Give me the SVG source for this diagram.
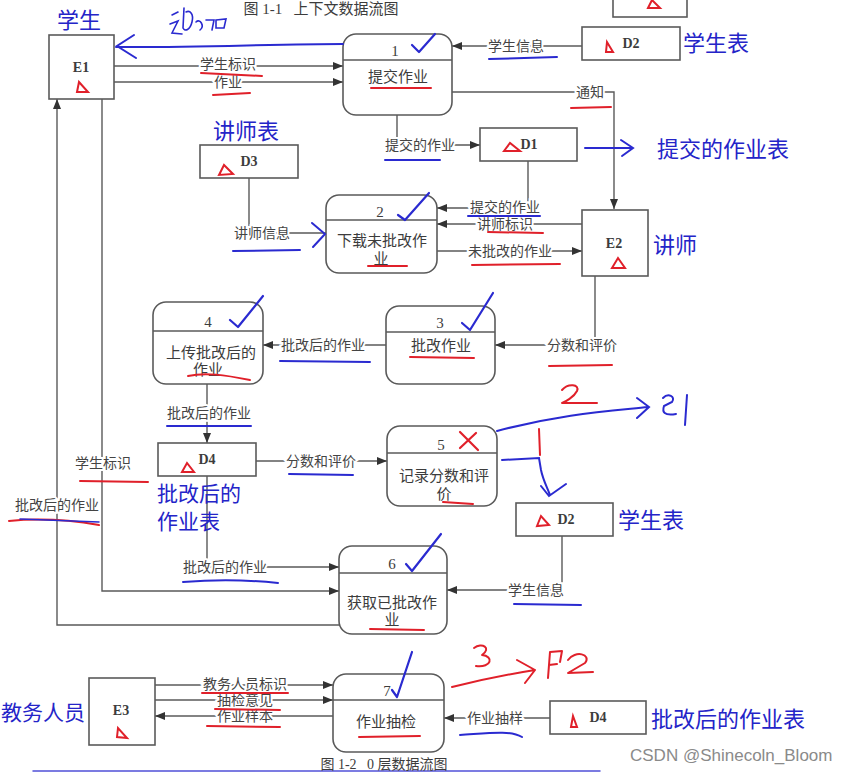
<svg xmlns="http://www.w3.org/2000/svg" width="866" height="773" viewBox="0 0 866 773">
<style>
.box{fill:#fff;stroke:#5a5a5a;stroke-width:1.6}
.proc{fill:#fff;stroke:#5a5a5a;stroke-width:1.6}
.div{stroke:#5a5a5a;stroke-width:1.5}
.ln{fill:none;stroke:#5a5a5a;stroke-width:1.4}
.t{font-family:"Liberation Serif","Noto Sans CJK SC",serif;font-size:15px;fill:#3c3c3c;text-anchor:middle;dominant-baseline:central}
.id{font-family:"Liberation Serif","Noto Sans CJK SC",serif;font-size:14px;font-weight:bold;fill:#3c3c3c;text-anchor:middle;dominant-baseline:central}
.lb{font-family:"Liberation Serif","Noto Sans CJK SC",serif;font-size:14px;fill:#444;text-anchor:middle;dominant-baseline:central;paint-order:stroke;stroke:#fff;stroke-width:4px}
.hw{font-family:"Noto Sans CJK SC",sans-serif;font-size:22px;fill:#2424c8}
.tri{fill:none;stroke:#e0202a;stroke-width:2}
.bu{fill:none;stroke:#2a2ad0;stroke-width:2;stroke-linecap:round}
.ru{fill:none;stroke:#e0202a;stroke-width:2;stroke-linecap:round;stroke-linejoin:round}
.ck{fill:none;stroke:#2a2ad0;stroke-width:2.2;stroke-linecap:round;stroke-linejoin:round}
.cap{white-space:pre}
</style>
<defs>
<marker id="a" markerWidth="10" markerHeight="8" refX="10" refY="4" orient="auto" markerUnits="userSpaceOnUse">
<path d="M0,0 L10,4 L0,8 Z" fill="#333"/>
</marker>
</defs>
<rect width="866" height="773" fill="#fff"/>

<text x="321" y="14" class="t cap" style="font-size:15px;dominant-baseline:auto" xml:space="preserve">图 1-1   上下文数据流图</text>

<g id="topbox">
<rect x="613" y="-2" width="74" height="19" class="box"/>
<path d="M648,8 L652,0 L660,8 Z" class="tri"/>
</g>

<g id="connectors">
<path d="M114,66 H343" class="ln" marker-end="url(#a)"/>
<path d="M114,82 H343" class="ln" marker-end="url(#a)"/>
<path d="M582,46 H452" class="ln" marker-end="url(#a)"/>
<path d="M452,92 H614 V209" class="ln" marker-end="url(#a)"/>
<path d="M397,115 V145 H480" class="ln" marker-end="url(#a)"/>
<path d="M528,161 V208 H437" class="ln" marker-end="url(#a)"/>
<path d="M582,224 H437" class="ln" marker-end="url(#a)"/>
<path d="M437,251 H582" class="ln" marker-end="url(#a)"/>
<path d="M249,178 V233 H326" class="ln"/>
<path d="M595,276 V345 H495" class="ln" marker-end="url(#a)"/>
<path d="M386,345 H263" class="ln" marker-end="url(#a)"/>
<path d="M207,384 V443" class="ln" marker-end="url(#a)"/>
<path d="M256,461 H387" class="ln" marker-end="url(#a)"/>
<path d="M562,536 V590 H447" class="ln" marker-end="url(#a)"/>
<path d="M207,476 V567 H339" class="ln" marker-end="url(#a)"/>
<path d="M102,99 V591 H339" class="ln" marker-end="url(#a)"/>
<path d="M339,625 H57 V99" class="ln" marker-end="url(#a)"/>
<path d="M155,685 H333" class="ln" marker-end="url(#a)"/>
<path d="M155,700 H333" class="ln" marker-end="url(#a)"/>
<path d="M333,716 H155" class="ln" marker-end="url(#a)"/>
<path d="M550,718 H444" class="ln" marker-end="url(#a)"/>

<text x="228" y="64" class="lb">学生标识</text>
<text x="228" y="82" class="lb">作业</text>
<text x="516" y="46" class="lb">学生信息</text>
<text x="590" y="92" class="lb">通知</text>
<text x="420" y="145" class="lb">提交的作业</text>
<text x="505" y="207" class="lb">提交的作业</text>
<text x="505" y="224" class="lb">讲师标识</text>
<text x="510" y="251" class="lb">未批改的作业</text>
<text x="262" y="233" class="lb">讲师信息</text>
<text x="582" y="345" class="lb">分数和评价</text>
<text x="323" y="345" class="lb">批改后的作业</text>
<text x="209" y="413" class="lb">批改后的作业</text>
<text x="321" y="461" class="lb">分数和评价</text>
<text x="536" y="590" class="lb">学生信息</text>
<text x="225" y="567" class="lb">批改后的作业</text>
<text x="103" y="463" class="lb">学生标识</text>
<text x="57" y="505" class="lb">批改后的作业</text>
<text x="245" y="684" class="lb">教务人员标识</text>
<text x="245" y="700" class="lb">抽检意见</text>
<text x="245" y="716" class="lb">作业样本</text>
<text x="495" y="718" class="lb">作业抽样</text>
</g>

<g id="E1">
<rect x="49" y="35" width="65" height="64" class="box"/>
<text x="81" y="67" class="id">E1</text>
<path d="M77,92 L79,82 L88,92 Z" class="tri"/>
</g>
<g id="P1">
<rect x="343" y="34" width="109" height="81" rx="13" class="proc"/>
<line x1="343" y1="60" x2="452" y2="60" class="div"/>
<text x="395" y="51" class="t">1</text>
<text x="398" y="77" class="t">提交作业</text>
</g>
<g id="D2">
<rect x="582" y="27" width="98" height="33" class="box"/>
<text x="631" y="43" class="id">D2</text>
<path d="M606,52 L607,42 L613,52 Z" class="tri"/>
</g>
<g id="D1">
<rect x="480" y="128" width="97" height="33" class="box"/>
<text x="529" y="144" class="id">D1</text>
<path d="M504,151 L510,143 L520,151 Z" class="tri"/>
</g>
<g id="D3">
<rect x="200" y="145" width="98" height="33" class="box"/>
<text x="249" y="161" class="id">D3</text>
<path d="M219,175 L224,165 L233,174 Z" class="tri"/>
</g>
<g id="P2">
<rect x="326" y="195" width="111" height="78" rx="13" class="proc"/>
<line x1="326" y1="220" x2="437" y2="220" class="div"/>
<text x="380" y="212" class="t">2</text>
<text x="382" y="241" class="t">下载未批改作</text>
<text x="381" y="259" class="t">业</text>
</g>
<g id="E2">
<rect x="582" y="210" width="66" height="66" class="box"/>
<text x="614" y="243" class="id">E2</text>
<path d="M612,268 L618,258 L625,268 Z" class="tri"/>
</g>
<g id="P3">
<rect x="386" y="306" width="109" height="78" rx="13" class="proc"/>
<line x1="386" y1="332" x2="495" y2="332" class="div"/>
<text x="440" y="323" class="t">3</text>
<text x="441" y="346" class="t">批改作业</text>
</g>
<g id="P4">
<rect x="153" y="302" width="110" height="82" rx="13" class="proc"/>
<line x1="153" y1="331" x2="263" y2="331" class="div"/>
<text x="208" y="322" class="t">4</text>
<text x="211" y="353" class="t">上传批改后的</text>
<text x="208" y="370" class="t">作业</text>
</g>
<g id="D4">
<rect x="158" y="443" width="98" height="33" class="box"/>
<text x="207" y="459" class="id">D4</text>
<path d="M182,472 L187,463 L194,472 Z" class="tri"/>
</g>
<g id="P5">
<rect x="387" y="426" width="110" height="80" rx="13" class="proc"/>
<line x1="387" y1="453" x2="497" y2="453" class="div"/>
<text x="441" y="445" class="t">5</text>
<text x="444" y="476" class="t">记录分数和评</text>
<text x="444" y="494" class="t">价</text>
</g>
<g id="D2b">
<rect x="516" y="503" width="97" height="33" class="box"/>
<text x="566" y="519" class="id">D2</text>
<path d="M537,526 L541,516 L549,525 Z" class="tri"/>
</g>
<g id="P6">
<rect x="339" y="546" width="108" height="88" rx="13" class="proc"/>
<line x1="339" y1="573" x2="447" y2="573" class="div"/>
<text x="392" y="564" class="t">6</text>
<text x="392" y="603" class="t">获取已批改作</text>
<text x="392" y="620" class="t">业</text>
</g>
<g id="E3">
<rect x="89" y="678" width="66" height="67" class="box"/>
<text x="121" y="710" class="id">E3</text>
<path d="M117,737 L118,728 L127,738 Z" class="tri"/>
</g>
<g id="P7">
<rect x="333" y="674" width="111" height="78" rx="13" class="proc"/>
<line x1="333" y1="700" x2="444" y2="700" class="div"/>
<text x="387" y="691" class="t">7</text>
<text x="386" y="722" class="t">作业抽检</text>
</g>
<g id="D4b">
<rect x="550" y="701" width="96" height="33" class="box"/>
<text x="598" y="717" class="id">D4</text>
<path d="M571,727 L573,716 L577,727 Z" class="tri"/>
</g>

<g id="annotations">
<text x="57" y="28" class="hw">学生</text>
<text x="683" y="51" class="hw">学生表</text>
<text x="657" y="157" class="hw">提交的作业表</text>
<text x="213" y="139" class="hw">讲师表</text>
<text x="653" y="253" class="hw">讲师</text>
<text x="157" y="501" class="hw" style="font-size:21px">批改后的</text>
<text x="157" y="529" class="hw" style="font-size:21px">作业表</text>
<text x="618" y="528" class="hw">学生表</text>
<text x="1" y="720" class="hw" style="font-size:21px">教务人员</text>
<text x="651" y="727" class="hw">批改后的作业表</text>

<path d="M343,44 C280,44 180,48 116,47" class="bu"/>
<path d="M134,35 L117,46 L136,58" class="bu"/>
<path d="M172,15 L178,12 M170,24 L178,21 L172,33 L182,34 M184,8 L183,28 C185,32 190,30 192,22 C194,14 190,10 186,12 M196,22 C200,18 205,26 200,30 M206,20 L214,20 L212,30 M216,20 L226,19 L224,28 L216,28 Z" class="bu" style="stroke-width:1.6"/>

<path d="M585,148 H632 M621,140 L633,148 L622,156" class="bu"/>
<path d="M312,223 L325,234 L313,247" class="bu"/>
<path d="M497,431 C560,414 610,411 648,407 M637,398 L649,407 L637,418" class="bu"/>
<path d="M663,398 C668,393 676,396 672,402 L664,406 C662,412 664,416 676,414 M687,395 L685,425" class="bu"/>
<path d="M502,460 L539,458 L541,470 C543,480 547,487 550,495 M541,486 L549,496 L566,484" class="bu"/>
<path d="M539,429 L540,455" class="ru"/>
<path d="M562,390 C568,383 580,384 577,391 C574,397 565,402 562,403 L597,403" class="ru"/>
<path d="M452,687 C480,680 510,674 535,670 M517,660 L535,670 L525,683" class="ru"/>
<path d="M474,648 C482,642 492,648 482,655 C494,656 492,668 476,666" class="ru"/>
<path d="M548,678 L550,652 L562,651 L560,662 M549,665 L557,664" class="ru"/>
<path d="M568,660 C575,650 592,654 585,663 L568,673 L593,672" class="ru"/>

<path d="M412,45 L419,52 L435,34" class="ck"/>
<path d="M398,215 L405,220 L429,193" class="ck"/>
<path d="M462,323 L470,330 L493,293" class="ck"/>
<path d="M230,320 L238,327 L263,296" class="ck"/>
<path d="M406,564 L412,571 L441,534" class="ck"/>
<path d="M392,690 L397,697 L412,652" class="ck"/>
<path d="M460,432 L478,450 M476,433 L460,448" class="ru" style="stroke-width:2.2"/>

<path d="M201,73 L262,76" class="ru"/>
<path d="M213,95 L250,93" class="ru"/>
<path d="M371,88 L431,88" class="ru"/>
<path d="M489,59 L557,57" class="bu"/>
<path d="M571,108 L611,107" class="ru"/>
<path d="M385,160 L440,160" class="bu"/>
<path d="M233,251 L300,250" class="bu"/>
<path d="M368,266 L407,266" class="ru"/>
<path d="M468,216 L540,216" class="bu"/>
<path d="M488,232 L543,233" class="ru"/>
<path d="M472,265 L560,264" class="ru"/>
<path d="M549,366 L612,365" class="ru"/>
<path d="M410,357 L474,358" class="ru"/>
<path d="M280,361 L370,362" class="bu"/>
<path d="M188,376 C205,372 225,375 250,380" class="ru"/>
<path d="M167,426 L251,426" class="bu"/>
<path d="M289,474 L353,475" class="bu"/>
<path d="M443,502 L473,504" class="ru"/>
<path d="M80,481 L148,482" class="ru"/>
<path d="M9,521 C40,518 70,520 99,525" class="ru"/>
<path d="M20,519 L99,522" class="bu" style="stroke-width:1.5"/>
<path d="M183,582 C220,579 250,580 278,583" class="bu"/>
<path d="M370,629 L424,630" class="ru"/>
<path d="M514,604 L581,605" class="bu"/>
<path d="M202,693 L288,693" class="ru"/>
<path d="M215,709 L280,710" class="ru"/>
<path d="M207,726 L280,727" class="ru"/>
<path d="M359,737 L420,736" class="ru"/>
<path d="M460,735 C490,733 510,730 522,737" class="bu"/>
<path d="M33,771 L600,771" class="bu" style="stroke-width:1.5;stroke:#5050d8"/>
</g>

<text x="384" y="769" class="t cap" style="font-size:14px;dominant-baseline:auto" xml:space="preserve">图 1-2   0 层数据流图</text>
<text x="630" y="761" style="font-family:'Liberation Sans',sans-serif;font-size:17px;fill:#8a8a8a">CSDN @Shinecoln_Bloom</text>
</svg>
